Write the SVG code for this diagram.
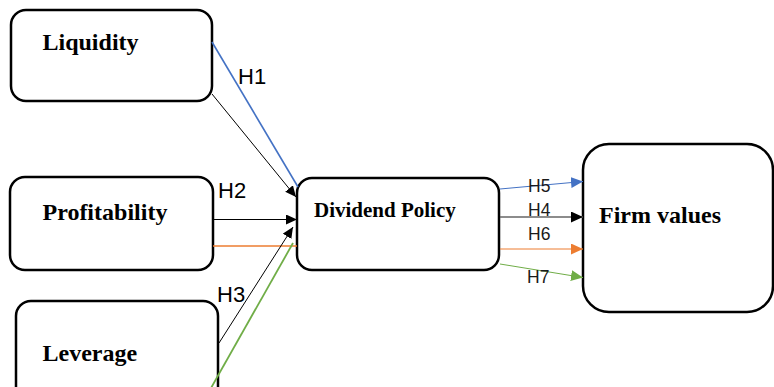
<svg xmlns="http://www.w3.org/2000/svg" width="774" height="387" viewBox="0 0 774 387">
  <style>
    .box { fill: #ffffff; stroke: #000000; stroke-width: 2.5; }
    .name { font-family: "Liberation Serif", "Times New Roman", serif; font-weight: bold; font-size: 24px; fill: #000000; }
    .hyp { font-family: "Liberation Sans", Arial, sans-serif; font-size: 22px; fill: #000000; }
    .hyp-sm { font-family: "Liberation Sans", Arial, sans-serif; font-size: 17.5px; fill: #1a1a1a; }
    .thin { fill: none; stroke-width: 1; }
  </style>
  <defs>
    <marker id="arrow-black" markerUnits="userSpaceOnUse" markerWidth="12" markerHeight="12" refX="11" refY="5" orient="auto">
      <path d="M0,0 L11,5 L0,10 Z" fill="#000000"/>
    </marker>
    <marker id="arrow-black-lg" markerUnits="userSpaceOnUse" markerWidth="13" markerHeight="12" refX="12" refY="5.5" orient="auto">
      <path d="M0,0 L12,5.5 L0,11 Z" fill="#000000"/>
    </marker>
    <marker id="arrow-blue" markerUnits="userSpaceOnUse" markerWidth="13" markerHeight="12" refX="12" refY="5.5" orient="auto">
      <path d="M0,0 L12,5.5 L0,11 Z" fill="#4472C4"/>
    </marker>
    <marker id="arrow-orange" markerUnits="userSpaceOnUse" markerWidth="13" markerHeight="12" refX="12" refY="5.5" orient="auto">
      <path d="M0,0 L12,5.5 L0,11 Z" fill="#ED7D31"/>
    </marker>
    <marker id="arrow-green" markerUnits="userSpaceOnUse" markerWidth="13" markerHeight="12" refX="12" refY="5.5" orient="auto">
      <path d="M0,0 L12,5.5 L0,11 Z" fill="#70AD47"/>
    </marker>
  </defs>

  <g id="liquidity">
    <rect class="box" x="11" y="10" width="201" height="91" rx="15"/>
    <text class="name" x="42.5" y="50">Liquidity</text>
  </g>
  <g id="profitability">
    <rect class="box" x="10" y="177" width="203" height="93" rx="15"/>
    <text class="name" x="42.5" y="220">Profitability</text>
  </g>
  <g id="leverage">
    <rect class="box" x="16" y="301" width="202" height="110" rx="15"/>
    <text class="name" x="42.5" y="361">Leverage</text>
  </g>
  <g id="dividend-policy">
    <rect class="box" x="297" y="178" width="202" height="92" rx="15"/>
    <text class="name" x="314" y="217" style="font-size:21px">Dividend Policy</text>
  </g>
  <g id="firm-values">
    <rect class="box" x="583" y="144" width="190" height="168" rx="26"/>
    <text class="name" x="599" y="223">Firm values</text>
  </g>

  <!-- connectors, drawn over the box outlines -->
  <g id="connectors">
    <!-- into Dividend Policy -->
    <line x1="212" y1="42" x2="298" y2="187" stroke="#4472C4" stroke-width="1.6"/>
    <line class="thin" x1="212" y1="94" x2="296" y2="197" stroke="#000000" marker-end="url(#arrow-black)"/>
    <line class="thin" x1="214" y1="219.5" x2="297" y2="219.5" stroke="#000000" marker-end="url(#arrow-black)"/>
    <line x1="213" y1="246" x2="297" y2="246" stroke="#ED7D31" stroke-width="1.6"/>
    <line class="thin" x1="219" y1="343" x2="293" y2="227" stroke="#000000" marker-end="url(#arrow-black)"/>
    <line x1="211" y1="388" x2="293" y2="243" stroke="#70AD47" stroke-width="1.8"/>
    <!-- into Firm values -->
    <line class="thin" x1="500" y1="189" x2="583" y2="181.5" stroke="#4472C4" marker-end="url(#arrow-blue)"/>
    <line x1="500" y1="217" x2="583" y2="217" stroke="#666666" stroke-width="1.3" marker-end="url(#arrow-black-lg)"/>
    <line class="thin" x1="500" y1="249" x2="583" y2="249" stroke="#ED7D31" marker-end="url(#arrow-orange)"/>
    <line class="thin" x1="500" y1="264" x2="583" y2="277.5" stroke="#70AD47" marker-end="url(#arrow-green)"/>
    <!-- hypothesis labels -->
    <text class="hyp" x="238" y="84">H1</text>
    <text class="hyp" x="218" y="198">H2</text>
    <text class="hyp" x="217" y="302">H3</text>
    <text class="hyp-sm" x="528" y="192">H5</text>
    <text class="hyp-sm" x="528" y="216">H4</text>
    <text class="hyp-sm" x="528" y="240">H6</text>
    <text class="hyp-sm" x="527" y="283">H7</text>
  </g>
</svg>
